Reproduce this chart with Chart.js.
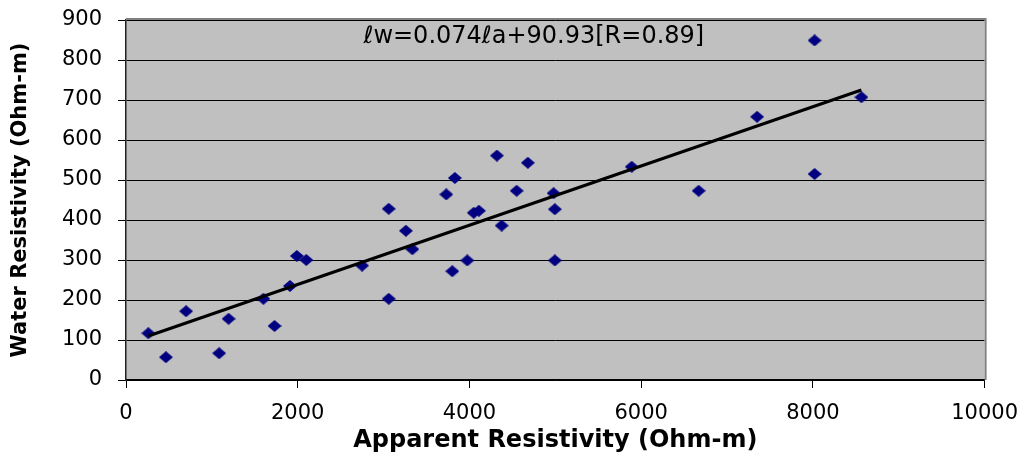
<!DOCTYPE html>
<html><head><meta charset="utf-8">
<script src="https://cdn.jsdelivr.net/npm/chart.js@4/dist/chart.umd.min.js"></script>
<style>html,body{margin:0;padding:0;background:#fff}#wrap{width:1031px;height:458px;position:relative}</style>
</head><body><div id="wrap"><canvas id="c" width="1031" height="458"></canvas></div>
<script>
// Apparent resistivity (Ohm-m) of each sample
const apparentRes = [260, 465, 700, 1085, 1195, 1600, 1730, 1910, 1990, 2100, 2750, 3060, 3060, 3260, 3335, 3730, 3830, 3800, 3975, 4050, 4110, 4320, 4375, 4550, 4680, 4980, 4995, 4995, 5890, 6670, 7350, 8020, 8020, 8565];
// Water resistivity (Ohm-m) of each sample
const waterRes    = [117,  57, 172,   67,  153,  203,  135,  235,  310,  300,  286,  428,  203,  373,  327,  464,  505,  272,  299,  418,  423,  561,  386,  473,  543,  467,  427,  299,  533,  473,  658,  849,  515,  707];
// Trend line end points
const trendX = [260, 8565];
const trendY = [110, 725];
const xTicks = [0, 2000, 4000, 6000, 8000, 10000];
const yTicks = [0, 100, 200, 300, 400, 500, 600, 700, 800, 900];
const equationText = 'ℓw=0.074ℓa+90.93[R=0.89]';
const xTitle = 'Apparent Resistivity (Ohm-m)';
const yTitle = 'Water Resistivity (Ohm-m)';

const points = apparentRes.map((x, i) => ({x: x, y: waterRes[i]}));
const trend = trendX.map((x, i) => ({x: x, y: trendY[i]}));

const diamond = document.createElement('canvas');
diamond.width = 14; diamond.height = 12;
(function(){
  const g = diamond.getContext('2d');
  g.fillStyle = '#000080';
  g.beginPath(); g.moveTo(7,0); g.lineTo(14,6); g.lineTo(7,12); g.lineTo(0,6); g.closePath(); g.fill();
})();

const plotDeco = {
  id: 'plotDeco',
  beforeDraw(chart) {
    const a = chart.chartArea, ctx = chart.ctx;
    ctx.save();
    ctx.fillStyle = '#C0C0C0';
    ctx.fillRect(a.left, a.top, a.right - a.left, a.bottom - a.top);
    ctx.restore();
  },
  afterDraw(chart) {
    const a = chart.chartArea, ctx = chart.ctx;
    ctx.save();
    ctx.strokeStyle = '#808080';
    ctx.lineWidth = 2;
    ctx.beginPath();
    ctx.moveTo(a.left, a.top - 1); ctx.lineTo(a.right + 1, a.top - 1); ctx.lineTo(a.right + 1, a.bottom);
    ctx.stroke();
    ctx.fillStyle = '#000';
    ctx.font = '24px "DejaVu Sans"';
    ctx.textAlign = 'center';
    ctx.textBaseline = 'alphabetic';
    ctx.fillText(equationText, a.left + 0.475 * (a.right - a.left), a.top + 23);
    ctx.restore();
  }
};

new Chart(document.getElementById('c'), {
  type: 'scatter',
  data: {
    datasets: [
      { type: 'line', data: trend, borderColor: '#000', borderWidth: 3, pointRadius: 0, fill: false, showLine: true },
      { data: points, pointStyle: diamond, pointRadius: 7, showLine: false }
    ]
  },
  options: {
    responsive: false,
    animation: false,
    devicePixelRatio: 1,
    layout: { padding: { top: 20, right: 38, left: 0, bottom: 0 } },
    plugins: { legend: { display: false }, tooltip: { enabled: false } },
    scales: {
      x: {
        type: 'linear', min: 0, max: 10000,
        afterBuildTicks: s => { s.ticks = xTicks.map(v => ({value: v})); },
        afterFit: s => { s.height = 78; },
        ticks: { autoSkip: false, maxRotation: 0, padding: 13, color: '#000', font: { family: 'DejaVu Sans', size: 21 }, callback: v => String(v) },
        grid: { drawOnChartArea: false, drawTicks: true, tickLength: 8, color: '#000' },
        border: { color: '#000', width: 1.5 },
        title: { display: true, text: xTitle, color: '#000', font: { family: 'DejaVu Sans', weight: 'bold', size: 24 }, padding: { top: 0, bottom: 3 } }
      },
      y: {
        type: 'linear', min: 0, max: 900,
        afterBuildTicks: s => { s.ticks = yTicks.map(v => ({value: v})); },
        afterFit: s => { s.width = 126; s.paddingTop = 0; s.paddingBottom = 0; },
        ticks: { autoSkip: false, padding: 16, color: '#000', font: { family: 'DejaVu Sans', size: 21 }, callback: v => String(v) },
        grid: { drawOnChartArea: true, drawTicks: true, tickLength: 8, color: '#000', lineWidth: 1 },
        border: { color: '#202020', width: 1.5 },
        title: { display: true, text: yTitle, color: '#000', font: { family: 'DejaVu Sans', weight: 'bold', size: 21 }, padding: { top: 8, bottom: 0 } }
      }
    }
  },
  plugins: [plotDeco]
});
</script>
</body></html>
